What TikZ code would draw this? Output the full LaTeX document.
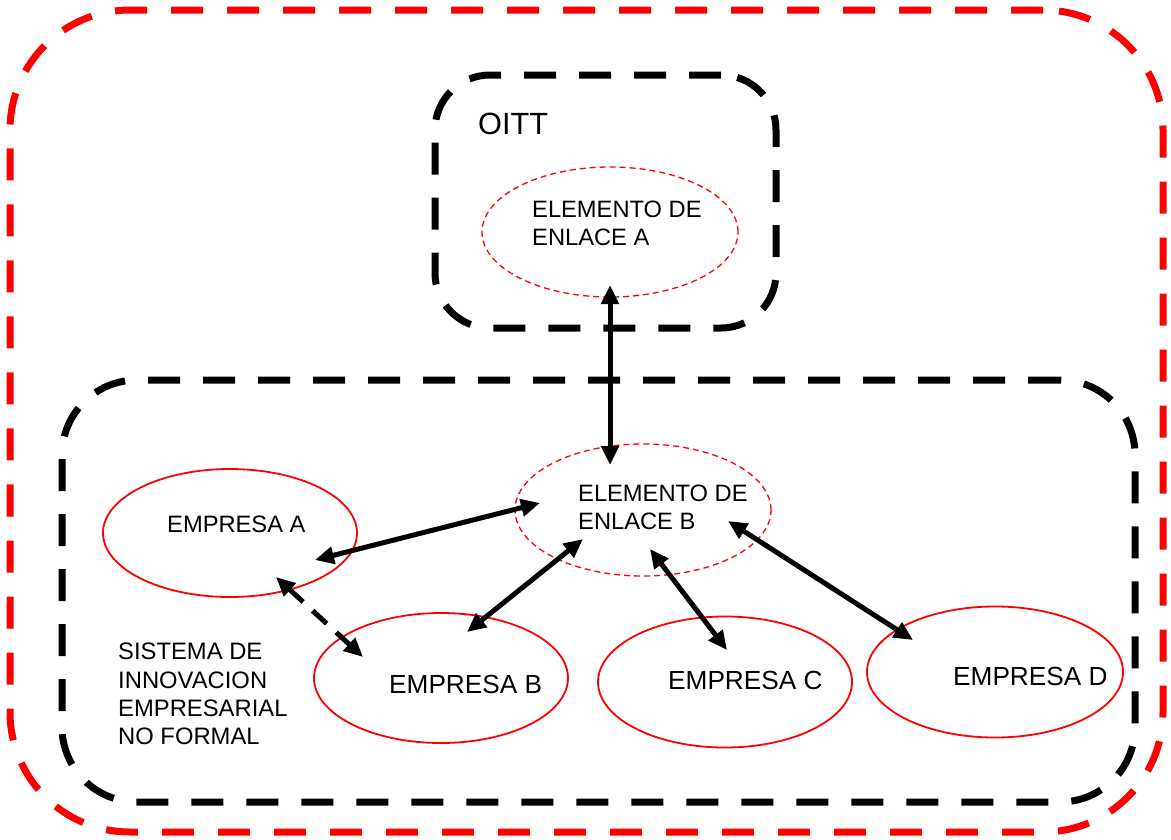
\documentclass[tikz,border=0pt]{standalone}
\usepackage{fontspec}
\setmainfont{Liberation Sans}
\usetikzlibrary{arrows.meta,shapes.geometric}

\begin{document}
\begin{tikzpicture}[x=1pt,y=-1pt,
  redframe/.style={draw=red, line width=7pt, dash pattern=on 32pt off 24pt,
    rounded corners=120pt, inner sep=0pt},
  blackframe/.style={draw=black, line width=7pt, dash pattern=on 32pt off 23pt,
    inner sep=0pt},
  linkel/.style={ellipse, draw=red, line width=1.3pt, dash pattern=on 6pt off 4pt,
    inner sep=0pt},
  firm/.style={ellipse, draw=red, line width=1.8pt, inner sep=0pt},
  lbl/.style={anchor=north west, inner sep=0pt, align=left,
    font=\fontsize{23.7}{27.5}\selectfont},
  biglbl/.style={anchor=north west, inner sep=0pt, font=\fontsize{26.2}{30}\selectfont},
  link/.style={line width=5pt, {Triangle[length=19pt,width=17pt]}-{Triangle[length=19pt,width=17pt]}},
  dlink/.style={link, dash pattern=on 19pt off 13pt},
]
\useasboundingbox (0,0) rectangle (1171,839);

% containers
\node[redframe, minimum width=1153pt, minimum height=822pt] (outer) at (586.5,421) {};
\node[blackframe, rounded corners=55pt, minimum width=341pt, minimum height=253pt] (oitt) at (605.5,201.5) {};
\node[blackframe, rounded corners=75pt, minimum width=1073pt, minimum height=422pt] (sist) at (598.5,591) {};

% linking elements and firms
\node[linkel, minimum width=256pt, minimum height=130pt] (elA) at (610,232) {};
\node[linkel, minimum width=256pt, minimum height=132pt] (elB) at (643,510) {};
\node[firm, minimum width=254pt, minimum height=128pt] (empA) at (230,533) {};
\node[firm, minimum width=254pt, minimum height=130pt] (empB) at (441,678) {};
\node[firm, minimum width=254pt, minimum height=131pt] (empC) at (725,682) {};
\node[firm, minimum width=256pt, minimum height=131pt] (empD) at (995,672) {};

% texts
\node[anchor=north west, inner sep=0pt, font=\fontsize{30.7}{34}\selectfont] (toitt) at (478,113) {OITT};
\node[lbl] (telA) at (532,201) {ELEMENTO DE\\ENLACE A};
\node[lbl] (telB) at (578,485) {ELEMENTO DE\\ENLACE B};
\node[lbl] (tempA) at (167,516) {EMPRESA A};
\node[biglbl] (tempB) at (389,675) {EMPRESA B};
\node[biglbl] (tempC) at (668,671) {EMPRESA C};
\node[biglbl] (tempD) at (953,667) {EMPRESA D};
\node[lbl, font=\fontsize{23.8}{28.3}\selectfont] (tsist) at (118,643)
  {SISTEMA DE\\INNOVACION\\EMPRESARIAL\\NO FORMAL};

% connectors
\draw[link] ([shift={(0,53)}]elA.center) -- ([shift={(-33,-45)}]elB.center);
\draw[link] ([shift={(85,27)}]empA.center) -- ([shift={(-103,-7)}]elB.center);
\draw[link] ([shift={(-60,29)}]elB.center) -- ([shift={(26,-46)}]empB.center);
\draw[link] ([shift={(7,39)}]elB.center) -- ([shift={(2,-32)}]empC.center);
\draw[link] ([shift={(85,11)}]elB.center) -- ([shift={(-82,-32)}]empD.center);
\draw[dlink] ([shift={(46,44)}]empA.center) -- ([shift={(-78,-21)}]empB.center);
\end{tikzpicture}
\end{document}
